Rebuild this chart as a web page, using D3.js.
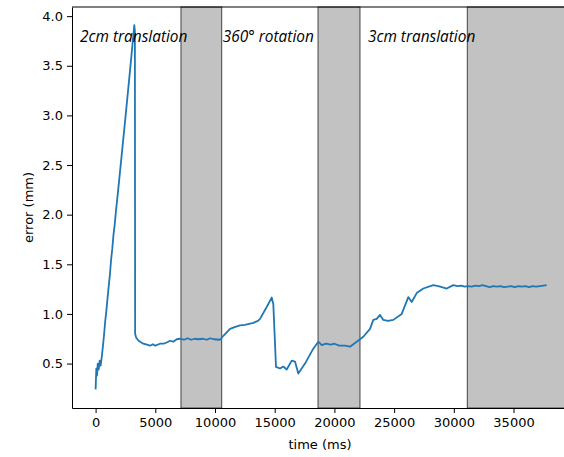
<!DOCTYPE html>
<html>
<head>
<meta charset="utf-8">
<script src="https://cdn.jsdelivr.net/npm/d3@7"></script>
<style>
  html, body { margin: 0; padding: 0; background: #fff; }
  svg { display: block; }
  .axis text { font-family: "DejaVu Sans", sans-serif; font-size: 13px; fill: #000; }
  .axis path, .axis line { stroke: #000; }
  .label { font-family: "DejaVu Sans", sans-serif; font-size: 13px; fill: #000; }
  .phase { font-family: "Open Sans", Lato, sans-serif; font-style: italic; font-size: 15.4px; fill: #000; }
</style>
</head>
<body>
<svg id="chart"></svg>
<script>
// error trace
const timeMs = [
  0, 60, 120, 180, 260, 340, 420, 500, 600, 700, 800, 900, 1000, 1100, 1200, 1300, 1400, 1500,
  1600, 1700, 1900, 2200, 2500, 2800, 3000, 3241, 3290, 3310, 3400, 3600, 3995, 4300, 4556, 4800,
  5000, 5390, 5700, 6000, 6231, 6500, 6800, 7068, 7400, 7700, 8000, 8300, 8600, 9000, 9300, 9600,
  9900, 10419, 10700, 11256, 11700, 12093, 12500, 13207, 13600, 13769, 14329, 14748, 14882, 15109,
  15444, 15720, 16005, 16424, 16700, 16976, 17537, 18232, 18651, 18936, 19300, 19700, 20000, 20400,
  20900, 21306, 21867, 22420, 22983, 23257, 23542, 23818, 24094, 24500, 24932, 25636, 26189, 26473,
  26892, 27445, 28282, 28700, 29000, 29404, 29957, 30300, 30600, 30900, 31200, 31500, 31800, 32100,
  32400, 32700, 33000, 33300, 33600, 33900, 34200, 34500, 34800, 35100, 35400, 35700, 36000, 36300,
  36600, 36900, 37200, 37500, 37770
];
const errorMm = [
  0.24, 0.45, 0.38, 0.50, 0.44, 0.53, 0.48, 0.55, 0.66, 0.78, 0.92, 1.03, 1.16, 1.28, 1.40, 1.55, 1.66, 1.80,
  1.90, 2.03, 2.26, 2.62, 2.98, 3.35, 3.60, 3.91, 3.85, 0.80, 0.76, 0.73, 0.70, 0.69, 0.68, 0.695,
  0.68, 0.70, 0.70, 0.715, 0.73, 0.72, 0.745, 0.75, 0.74, 0.755, 0.74, 0.75, 0.745, 0.75, 0.74, 0.755,
  0.745, 0.74, 0.78, 0.85, 0.87, 0.885, 0.89, 0.91, 0.93, 0.95, 1.07, 1.165, 1.10, 0.466,
  0.45, 0.47, 0.44, 0.53, 0.52, 0.40, 0.50, 0.65, 0.72, 0.685, 0.70, 0.69, 0.70, 0.68,
  0.68, 0.67, 0.72, 0.77, 0.85, 0.94, 0.95, 0.99, 0.94, 0.93, 0.94, 1.00, 1.17, 1.12,
  1.21, 1.256, 1.29, 1.28, 1.27, 1.256, 1.29, 1.28, 1.285, 1.275, 1.28, 1.275, 1.285, 1.28,
  1.29, 1.28, 1.27, 1.28, 1.275, 1.28, 1.27, 1.275, 1.28, 1.27, 1.28, 1.275, 1.28, 1.27,
  1.28, 1.275, 1.28, 1.285, 1.29
];

// grey "rest" spans between the movements
const shadeStart = [7150, 18630, 31130];
const shadeEnd = [10560, 22140, 45000];

const phaseLabels = ['2cm translation', '360\u00b0 rotation', '3cm translation'];
const phaseX = [-1300, 10650, 22810];
const phaseY = 3.74;

const xTicks = [0, 5000, 10000, 15000, 20000, 25000, 30000, 35000];
const yTicks = [0.5, 1.0, 1.5, 2.0, 2.5, 3.0, 3.5, 4.0];

const W = 564, H = 457;
const margin = { top: 7, left: 72, right: -4, bottom: 49 };
const innerW = W - margin.left - margin.right;
const innerH = H - margin.top - margin.bottom;

const svg = d3.select('#chart').attr('width', W).attr('height', H);

const x = d3.scaleLinear().domain([-1977, 39563]).range([0, innerW]);
const y = d3.scaleLinear().domain([0.0524, 4.092]).range([innerH, 0]);

const g = svg.append('g')
  .attr('transform', `translate(${margin.left}, ${margin.top})`);

// shaded spans
g.selectAll('rect.shade')
  .data(d3.zip(shadeStart, shadeEnd))
  .enter()
  .append('rect')
  .attr('class', 'shade')
  .attr('x', d => x(d[0]))
  .attr('y', 0)
  .attr('width', d => x(d[1]) - x(d[0]))
  .attr('height', innerH)
  .style('fill', '#c2c2c2')
  .style('stroke', '#444')
  .style('stroke-width', 1);

// the trace
const line = d3.line()
  .x(d => x(d[0]))
  .y(d => y(d[1]));

g.append('path')
  .datum(d3.zip(timeMs, errorMm))
  .attr('d', line)
  .style('fill', 'none')
  .style('stroke', '#1f77b4')
  .style('stroke-width', 1.8)
  .style('stroke-linejoin', 'round');

// phase names
g.selectAll('text.phase')
  .data(phaseLabels)
  .enter()
  .append('text')
  .attr('class', 'phase')
  .attr('x', (d, i) => x(phaseX[i]))
  .attr('y', y(phaseY))
  .text(d => d);

// axes
g.append('g')
  .attr('class', 'axis')
  .attr('transform', `translate(0, ${innerH})`)
  .call(d3.axisBottom(x).tickValues(xTicks).tickFormat(d3.format('d')).tickSize(5).tickPadding(5).tickSizeOuter(0));

g.append('g')
  .attr('class', 'axis')
  .call(d3.axisLeft(y).tickValues(yTicks).tickFormat(d3.format('.1f')).tickSize(5).tickPadding(4).tickSizeOuter(0));

// top and right spines
g.append('line')
  .attr('x1', 0).attr('x2', innerW)
  .attr('y1', 0).attr('y2', 0)
  .style('stroke', '#000');

g.append('line')
  .attr('x1', innerW).attr('x2', innerW)
  .attr('y1', 0).attr('y2', innerH)
  .style('stroke', '#000');

svg.append('text')
  .attr('class', 'label')
  .attr('x', margin.left + innerW / 2)
  .attr('y', 449)
  .attr('text-anchor', 'middle')
  .text('time (ms)');

svg.append('text')
  .attr('class', 'label')
  .attr('transform', `translate(33, ${margin.top + innerH / 2}) rotate(-90)`)
  .attr('text-anchor', 'middle')
  .text('error (mm)');
</script>
</body>
</html>
